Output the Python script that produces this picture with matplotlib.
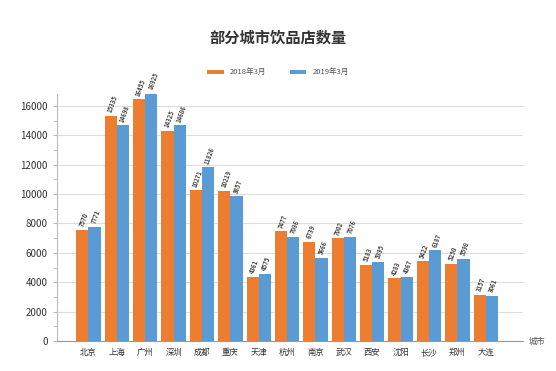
import matplotlib.pyplot as plt
import numpy as np

plt.rcParams['font.family'] = ['Noto Sans CJK SC', 'DejaVu Sans']

cities = ['北京', '上海', '广州', '深圳', '成都', '重庆', '天津', '杭州',
          '南京', '武汉', '西安', '沈阳', '长沙', '郑州', '大连']
v2018 = [7570, 15335, 16455, 14325, 10271, 10219, 4361, 7477,
         6739, 7002, 5183, 4283, 5422, 5250, 3157]
v2019 = [7771, 14698, 16925, 14686, 11826, 9857, 4575, 7086,
         5666, 7076, 5395, 4367, 6187, 5598, 3061]
yticks = [0, 2000, 4000, 6000, 8000, 10000, 12000, 14000, 16000]

orange = '#ED7D31'
blue = '#5B9BD5'

fig = plt.figure(figsize=(5.56, 3.71), dpi=100)
ax = fig.add_axes([0.103, 0.081, 0.837, 0.665])

x = np.arange(len(cities))
w = 0.43
b1 = ax.bar(x - w / 2, v2018, w, color=orange, label='2018年3月', zorder=3)
b2 = ax.bar(x + w / 2, v2019, w, color=blue, label='2019年3月', zorder=3)

for bars, vals in ((b1, v2018), (b2, v2019)):
    for rect, v in zip(bars, vals):
        ax.text(rect.get_x() + rect.get_width() / 2 + 0.05, v + 150, str(v),
                rotation=70, ha='center', va='bottom', fontsize=4.3,
                color='#444444', fontweight='bold')

ax.set_xlim(-1.1, 15.3)
ax.set_ylim(0, 16800)
ax.set_yticks(yticks)
ax.set_yticks(np.arange(1000, 16001, 2000), minor=True)
ax.set_yticklabels([str(t) for t in yticks], fontsize=7, color='#333333')
ax.set_xticks(x)
ax.set_xticklabels(cities, fontsize=6, color='#333333', fontweight='medium')
ax.tick_params(axis='x', length=0, pad=5)
ax.tick_params(axis='y', which='both', length=3, color='#bbbbbb', pad=4)
ax.tick_params(axis='y', which='minor', labelleft=False)
ax.grid(axis='y', color='#dddddd', linewidth=0.8, zorder=0)

for s in ('top', 'right'):
    ax.spines[s].set_visible(False)
ax.spines['left'].set_color('#bbbbbb')
ax.spines['bottom'].set_color('#999999')

ax.text(-0.8, 1.015, '数量', transform=ax.get_yaxis_transform(), fontsize=6,
        color='#555555', va='bottom')
ax.text(1.012, 0, '城市', transform=ax.transAxes, fontsize=6,
        color='#555555', va='center', ha='left')

fig.text(0.5, 0.9, '部分城市饮品店数量', ha='center', va='center',
         fontsize=11, fontweight='bold', color='#333333')
fig.legend(loc='center', bbox_to_anchor=(0.5, 0.805), ncol=2, frameon=False,
           fontsize=5.5, handlelength=2.2, handleheight=0.4, columnspacing=3,
           labelcolor='#555555')

fig.savefig('out.png', dpi=100, facecolor='white')
